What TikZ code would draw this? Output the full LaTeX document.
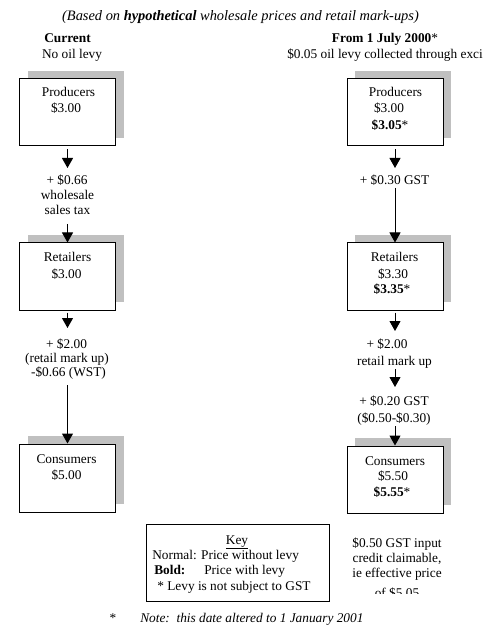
\documentclass[tikz,border=0pt]{standalone}
\usepackage{fontspec}
\setmainfont{Liberation Serif}
\usetikzlibrary{arrows.meta,shadows}
\definecolor{shadowgrey}{HTML}{C0C0C0}
\begin{document}
\begin{tikzpicture}[x=0.75pt,y=-0.75pt,
  every node/.style={font=\fontsize{10}{12}\selectfont, inner sep=0pt},
  box/.style={draw, line width=0.75pt, fill=white, minimum width=72pt, minimum height=50.25pt,
    drop shadow={shadow xshift=6pt, shadow yshift=6pt, fill=shadowgrey, opacity=1}},
  keybox/.style={draw, line width=0.75pt, fill=white, minimum width=137.25pt, minimum height=57.75pt},
  txt/.style={anchor=base},
  txtw/.style={anchor=base west},
  arr/.style={line width=0.75pt, -{Triangle[width=8.25pt,length=7.5pt]}}]
\useasboundingbox (0,0) rectangle (483,641);
\clip (0,0) rectangle (483,641);

% headings
\node[txt, font=\fontsize{10.8}{13}\selectfont] (title) at (240.5,21) {\itshape (Based on \textbf{hypothetical} wholesale prices and retail mark-ups)};
\node[txt] (cur) at (67.5,43) {\bfseries Current};
\node[txt] (nolevy) at (72,59) {No oil levy};
\node[txt] (from) at (385,43) {\textbf{From 1 July 2000}*};
\node[txtw] (levy) at (287,59) {\$0.05 oil levy collected through exci};

% left boxes
\node[box] (lp) at (67.5,112.5) {};
\node[box] (lr) at (67.5,276.5) {};
\node[box, minimum height=51pt] (lc) at (67.5,478) {};
% right boxes
\node[box] (rp) at (395,112.5) {};
\node[box] (rr) at (395,276.5) {};
\node[box] (rc) at (395,479.5) {};

% box texts left
\node[txt] (lpt1) at (68.5,97) {Producers};
\node[txt] (lpt2) at (66,113) {\$3.00};
\node[txt] (lrt1) at (67.5,262) {Retailers};
\node[txt] (lrt2) at (66.5,278) {\$3.00};
\node[txt] (lct1) at (66.5,463) {Consumers};
\node[txt] (lct2) at (66.5,479) {\$5.00};
% box texts right
\node[txt] (rpt1) at (395.5,97) {Producers};
\node[txt] (rpt2) at (389,113) {\$3.00};
\node[txt] (rpt3) at (390,130) {\textbf{\$3.05}*};
\node[txt] (rrt1) at (394.5,262) {Retailers};
\node[txt] (rrt2) at (393,278) {\$3.30};
\node[txt] (rrt3) at (392,293) {\textbf{\$3.35}*};
\node[txt] (rct1) at (395,465) {Consumers};
\node[txt] (rct2) at (393,480) {\$5.50};
\node[txt] (rct3) at (392,496) {\textbf{\$5.55}*};

% labels left
\node[txt] (ll1) at (67,185) {+ \$0.66};
\node[txt] (ll2) at (67.5,200) {wholesale};
\node[txt] (ll3) at (67.5,215) {sales tax};
\node[txt] (ll4) at (66.5,348) {+ \$2.00};
\node[txt] (ll5) at (67,362) {(retail mark up)};
\node[txt] (ll6) at (68.5,376) {-\$0.66 (WST)};
% labels right
\node[txt] (rl1) at (394.5,185) {+ \$0.30 GST};
\node[txt] (rl2) at (387,348) {+ \$2.00};
\node[txt] (rl3) at (394.5,365) {retail mark up};
\node[txt] (rl4) at (394,405) {+ \$0.20 GST};
\node[txt] (rl5) at (394,422) {(\$0.50-\$0.30)};

% arrow coordinates
\coordinate (la1) at (67.5,168);
\coordinate (la2) at (67.5,224);
\coordinate (la3) at (67.5,328);
\coordinate (la4) at (67.5,385);
\coordinate (ra1) at (395,168);
\coordinate (ra2) at (395,188);
\coordinate (ra3) at (395,331);
\coordinate (ra4s) at (395,369);
\coordinate (ra4e) at (395,387);
\coordinate (ra5) at (395,426);

\draw[arr, shorten <=2.25pt] (lp.south) -- (la1);
\draw[arr] (la2) -- (lr.north);
\draw[arr, shorten <=1.5pt] (lr.south) -- (la3);
\draw[arr] (la4) -- (lc.north);
\draw[arr, shorten <=2.25pt] (rp.south) -- (ra1);
\draw[arr] (ra2) -- (rr.north);
\draw[arr, shorten <=1.5pt] (rr.south) -- (ra3);
\draw[arr] (ra4s) -- (ra4e);
\draw[arr] (ra5) -- (rc.north);

% key
\node[keybox] (key) at (237.5,562.5) {};
\node[txt] (k1) at (237,544) {\underline{Key}};
\node[txtw] (k2) at (152,559) {Normal: Price without levy};
\node[txtw] (k3) at (154,574) {\textbf{Bold:}};
\node[txtw] (k4) at (204,574) {Price with levy};
\node[txtw] (k5) at (157,590) {* Levy is not subject to GST};

% right note (clipped)
\begin{scope}
\clip (330,530) rectangle (470,593);
\node[txt] (n1) at (397,547) {\$0.50 GST input};
\node[txt] (n2) at (397,562) {credit claimable,};
\node[txt] (n3) at (397,577) {ie effective price};
\node[txt] (n4) at (397,597) {of \$5.05};
\end{scope}

% footer
\node[txt] (star) at (113,622) {*};
\node[txtw] (foot) at (140,622) {\itshape Note:\ \ this date altered to 1 January 2001};
\end{tikzpicture}
\end{document}
